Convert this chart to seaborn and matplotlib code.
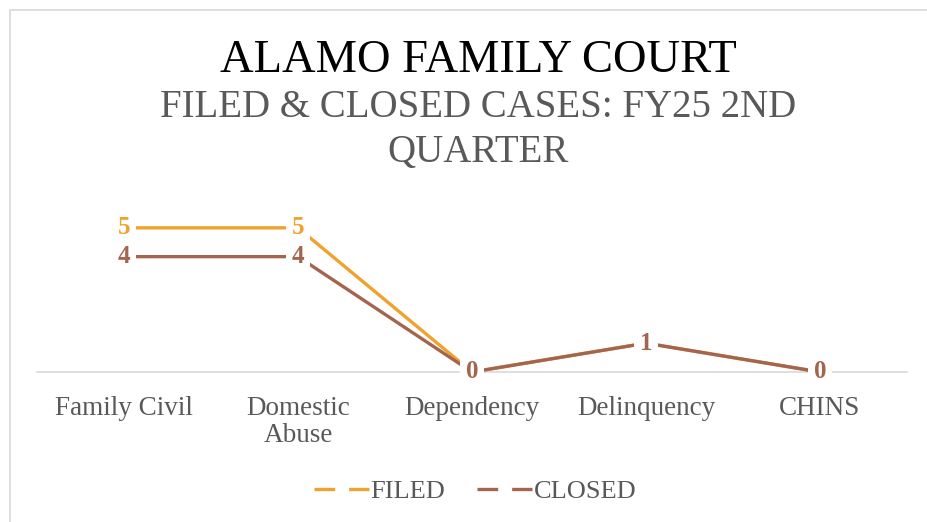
import pandas as pd
import seaborn as sns
import matplotlib.pyplot as plt
from matplotlib.patches import Rectangle
from matplotlib.lines import Line2D

# --- DATA ---
categories = ["Family Civil", "Domestic\nAbuse", "Dependency", "Delinquency", "CHINS"]
filed = [5, 5, 0, 1, 0]
closed = [4, 4, 0, 1, 0]

FILED_COLOR = "#F0A22E"
CLOSED_COLOR = "#A5644E"
GRAY = "#595959"

df = pd.DataFrame({
    "pos": list(range(len(categories))) * 2,
    "cases": filed + closed,
    "series": ["FILED"] * len(filed) + ["CLOSED"] * len(closed),
})

sns.set_style("white")
plt.rcParams['font.family'] = ['Liberation Serif', 'DejaVu Serif']

fig = plt.figure(figsize=(9.28, 5.22), dpi=100)
ax = fig.add_axes([37 / 928, 1 - 372 / 522, 870 / 928, 173 / 522])

sns.lineplot(data=df, x="pos", y="cases", hue="series", sort=False,
             palette={"FILED": FILED_COLOR, "CLOSED": CLOSED_COLOR},
             linewidth=2.4, legend=False, ax=ax)

# data labels with white boxes (drawn over the lines)
for vals, col in [(filed, FILED_COLOR), (closed, CLOSED_COLOR)]:
    for i, v in enumerate(vals):
        ax.text(i, v, str(v), ha="center", va="center", fontsize=18,
                fontweight="bold", color=col, zorder=5,
                bbox=dict(facecolor="white", edgecolor="none", pad=4))

ax.set_xlim(-0.5, len(categories) - 0.5)
ax.set_ylim(0, 6)
ax.set_xticks(range(len(categories)))
ax.set_xticklabels(categories, fontsize=19.5, color=GRAY, linespacing=1.15)
ax.tick_params(axis="x", length=0, pad=17)
ax.set_yticks([])
ax.set_xlabel("")
ax.set_ylabel("")
for s in ["top", "left", "right"]:
    ax.spines[s].set_visible(False)
ax.spines["bottom"].set_color("#D9D9D9")
ax.spines["bottom"].set_linewidth(1.2)
ax.spines["bottom"].set_zorder(0)

# chart border
fig.patches.append(Rectangle((10 / 928, -0.05), 1.0, 1 - 10 / 522 + 0.05,
                             transform=fig.transFigure, fill=False,
                             edgecolor="#D9D9D9", linewidth=1.2))

# titles
fig.text(478 / 928, 1 - 61 / 522, "ALAMO FAMILY COURT", ha="center", va="center",
         fontsize=33.5, color="black")
fig.text(478 / 928, 1 - 130 / 522, "FILED & CLOSED CASES: FY25 2ND\nQUARTER",
         ha="center", va="center", fontsize=28, color=GRAY, linespacing=1.3)

# legend
handles = [Line2D([], [], color=FILED_COLOR, lw=2.4, ls=(0, (6.2, 4.2))),
           Line2D([], [], color=CLOSED_COLOR, lw=2.4, ls=(0, (6.2, 4.2)))]
fig.legend(handles, ["FILED", "CLOSED"], loc="center", ncol=2,
           bbox_to_anchor=(475 / 928, 1 - 491 / 522), frameon=False,
           fontsize=19, labelcolor=GRAY, handlelength=2.1, handletextpad=0.05,
           columnspacing=1.2)

fig.savefig("out.png", dpi=100)
